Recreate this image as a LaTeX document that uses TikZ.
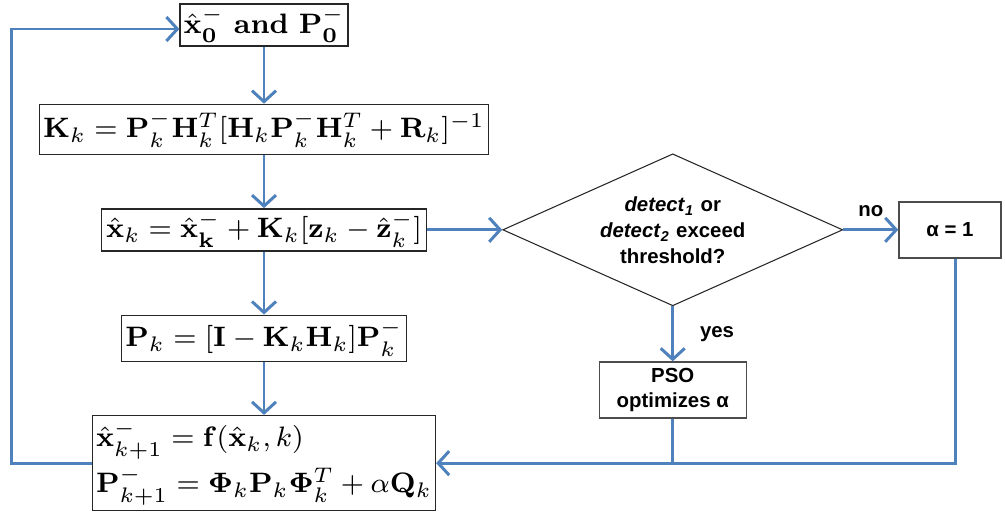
\RequirePackage{fix-cm}
\documentclass[tikz,border=0pt]{standalone}
\usepackage{amsmath}
\usepackage[no-math]{fontspec}
\usepackage{tikz}
\usetikzlibrary{shapes.geometric, arrows.meta, positioning}
\newfontfamily\flowsans{Liberation Sans}
\definecolor{flowblue}{RGB}{79,129,189}
\tikzset{
    kfblock/.style={rectangle, draw=black!85, line width=0.4pt, inner xsep=1pt, inner ysep=0.5pt, align=center, font=\fontsize{8}{9.5}\selectfont},
    kfdecision/.style={diamond, draw=black!85, line width=0.3pt, inner sep=0pt, aspect=2.24, align=center, font=\flowsans\fontsize{5.8}{7.4}\selectfont\bfseries},
    kfsans/.style={rectangle, draw=black!70, line width=0.4pt, inner sep=1pt, align=center, font=\flowsans\fontsize{5.8}{7.2}\selectfont\bfseries},
    kfarrow/.style={-{Straight Barb[length=1.1mm, width=2.4mm]}, flowblue, line width=0.85pt},
    kfline/.style={flowblue, line width=0.85pt},
    kflabel/.style={font=\flowsans\fontsize{5.8}{7}\selectfont\bfseries, text=black}
}

\begin{document}
\begin{tikzpicture}[node distance=0.55cm and 0.75cm]
\useasboundingbox (0,0) rectangle (10.05,-5.17);

% Kalman filter column
\node[kfblock, minimum width=1.54cm, minimum height=0.42cm] (init) at (2.64,-0.25) {$\hat{\mathbf{x}}_{\mathbf{0}}^{-}$ \textbf{and} $\mathbf{P}_{\mathbf{0}}^{-}$};
\node[kfblock, minimum width=4.48cm, minimum height=0.5cm, below=0.57cm of init] (gain) {$\mathbf{K}_k = \mathbf{P}_k^{-}\mathbf{H}_k^T[\mathbf{H}_k\mathbf{P}_k^{-}\mathbf{H}_k^T + \mathbf{R}_k]^{-1}$};
\node[kfblock, minimum width=3.25cm, minimum height=0.42cm, below=0.53cm of gain] (estimate) {$\hat{\mathbf{x}}_k = \hat{\mathbf{x}}_{\mathbf{k}}^{-} + \mathbf{K}_k[\mathbf{z}_k - \hat{\mathbf{z}}_k^{-}]$};
\node[kfblock, minimum width=2.85cm, minimum height=0.46cm, below=0.63cm of estimate] (covar) {$\mathbf{P}_k = [\mathbf{I} - \mathbf{K}_k\mathbf{H}_k]\mathbf{P}_k^{-}$};
\node[kfblock, align=left, minimum width=3.40cm, minimum height=0.95cm, below=0.53cm of covar] (predict) {$\hat{\mathbf{x}}_{k+1}^{-} = \mathbf{f}(\hat{\mathbf{x}}_k, k)$\\[1pt]
    $\mathbf{P}_{k+1}^{-} = \mathbf{\Phi}_k\mathbf{P}_k\mathbf{\Phi}_k^T + \alpha\mathbf{Q}_k$};

% adaptive part
\node[kfdecision, minimum width=3.40cm, minimum height=1.52cm, right=0.75cm of estimate] (detect) {\textit{detect}\textsubscript{\textit{1}} or\\\textit{detect}\textsubscript{\textit{2}} exceed\\threshold?};
\node[kfsans, minimum width=1.02cm, minimum height=0.56cm, right=0.55cm of detect] (alpha) {α = 1};
\node[kfsans, minimum width=1.47cm, minimum height=0.56cm, below=0.55cm of detect] (pso) {PSO\\optimizes α};

\draw[kfarrow] (init) -- (gain);
\draw[kfarrow] (gain) -- (estimate);
\draw[kfarrow] (estimate) -- (covar);
\draw[kfarrow] (covar) -- (predict);
\draw[kfarrow] (estimate) -- (detect);
\draw[kfarrow] (detect) -- node[above, kflabel] {no} (alpha);
\draw[kfarrow] (detect) -- node[right, kflabel, xshift=4pt] {yes} (pso);
\draw[kfarrow] ([xshift=0.06cm]alpha.south) |- (predict.east);
\draw[kfline] (pso.south) -- (pso.south |- predict.east);
\draw[kfarrow] (predict.west) -- ++(-0.80,0) |- ([yshift=-0.04cm]init.west);

\end{tikzpicture}
\end{document}
